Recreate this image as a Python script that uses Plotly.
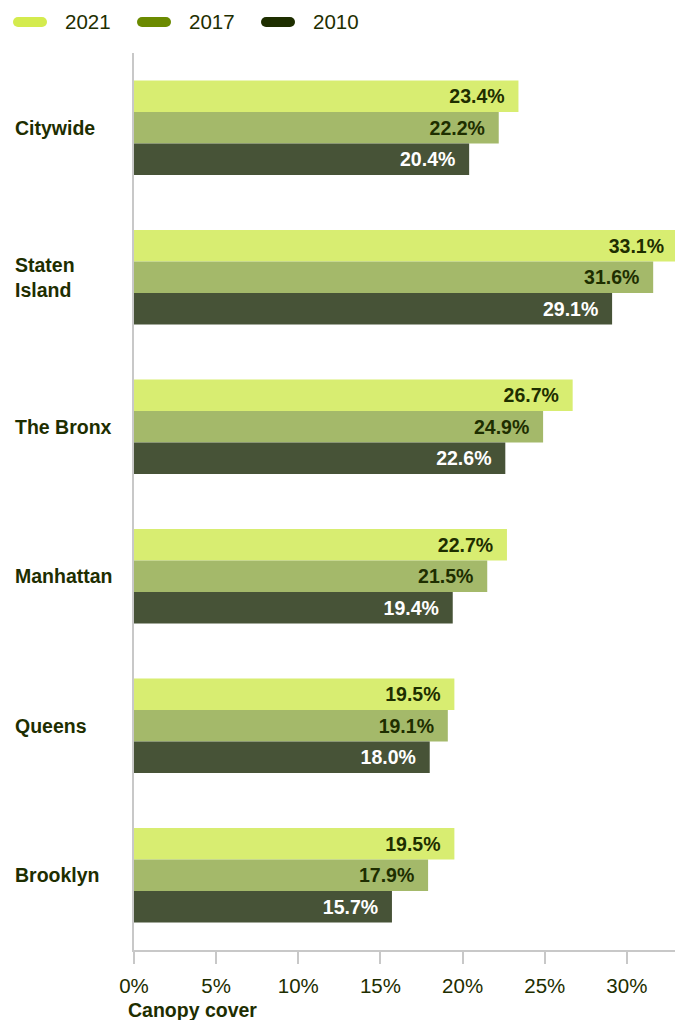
import plotly.graph_objects as go

categories = ["Citywide", "Staten Island", "The Bronx", "Manhattan", "Queens", "Brooklyn"]
cat_labels = ["Citywide", "Staten<br>Island", "The Bronx", "Manhattan", "Queens", "Brooklyn"]
years = ["2021", "2017", "2010"]
v2021 = [23.4, 33.1, 26.7, 22.7, 19.5, 19.5]
v2017 = [22.2, 31.6, 24.9, 21.5, 19.1, 17.9]
v2010 = [20.4, 29.1, 22.6, 19.4, 18.0, 15.7]
x_ticks = [0, 5, 10, 15, 20, 25, 30]

bar_colors = ["#d8ed71", "#a4b96a", "#475337"]
legend_colors = ["#d4eb4e", "#6b8a00", "#1e2e00"]
text_colors = ["#1e2e00", "#1e2e00", "#ffffff"]
DARK = "#1e2e00"
FONT = "Liberation Sans, Arial, Helvetica, sans-serif"

# page body has an 8px margin: work in reference pixels, shift by OFF
OFF = 8
W, H = 683 - OFF, 1020 - OFF
ML = 134 - OFF
MT = 53 - OFF
MR = W - (677 - OFF)
MB = H - (950 - OFF)
PW, PH = W - ML - MR, H - MT - MB

fig = go.Figure()
for name, vals, bc, tc in zip(years, [v2021, v2017, v2010], bar_colors, text_colors):
    fig.add_trace(go.Bar(
        y=categories, x=vals, name=name, orientation="h",
        marker=dict(color=bc, line=dict(width=0)),
        texttemplate="%{x:.1f}%\u00a0\u00a0", textposition="inside",
        insidetextanchor="end",
        insidetextfont=dict(family=FONT, size=19.5, color=tc, weight=700),
        showlegend=False, hoverinfo="skip",
    ))

def px2x(px):
    return (px - OFF - ML) / PW

def py2y(py):
    return 1 - (py - OFF - MT) / PH

annotations = []
shapes = []
for i, lab in enumerate(cat_labels):
    annotations.append(dict(
        xref="paper", yref="y", x=px2x(13), y=categories[i], text=lab,
        xanchor="left", yanchor="middle", align="left", showarrow=False,
        font=dict(family=FONT, size=19.5, color=DARK, weight=700)))

# legend (manual)
leg_x = [13, 137, 261]
for lx, name, col in zip(leg_x, years, legend_colors):
    r = 5
    cy = 22
    shapes.append(dict(type="rect", xref="paper", yref="paper",
                       x0=px2x(lx + r), x1=px2x(lx + 34 - r), y0=py2y(cy + r), y1=py2y(cy - r),
                       fillcolor=col, line=dict(width=0)))
    for cx in (lx + r, lx + 34 - r):
        shapes.append(dict(type="circle", xref="paper", yref="paper",
                           x0=px2x(cx - r), x1=px2x(cx + r), y0=py2y(cy + r), y1=py2y(cy - r),
                           fillcolor=col, line=dict(width=0)))
    annotations.append(dict(xref="paper", yref="paper", x=px2x(lx + 50), y=py2y(cy),
                            text=name, xanchor="left", yanchor="middle", showarrow=False,
                            font=dict(family=FONT, size=20.5, color=DARK)))

annotations.append(dict(xref="paper", yref="paper", x=px2x(126), y=py2y(1010),
                        text="Canopy cover", xanchor="left", yanchor="middle", showarrow=False,
                        font=dict(family=FONT, size=19.5, color=DARK, weight=700)))

fig.update_layout(
    width=W, height=H,
    margin=dict(l=ML, r=MR, t=MT, b=MB, pad=0),
    paper_bgcolor="white", plot_bgcolor="white",
    barmode="group", bargap=0.367, bargroupgap=0,
    showlegend=False,
    xaxis=dict(range=[0, 33.05], tickvals=x_ticks, ticktext=[f"{t}%" for t in x_ticks],
               ticks="outside", ticklen=12, tickcolor="#c8c8c8", tickwidth=1.5,
               showline=True, linecolor="#c8c8c8", linewidth=1.5,
               showgrid=False, zeroline=False, ticklabelstandoff=5,
               tickfont=dict(family=FONT, size=20.5, color=DARK)),
    yaxis=dict(autorange="reversed", showticklabels=False, ticks="",
               showline=True, linecolor="#c8c8c8", linewidth=1.5,
               showgrid=False, zeroline=False),
    annotations=annotations, shapes=shapes,
)

fig.write_html("out.html")
